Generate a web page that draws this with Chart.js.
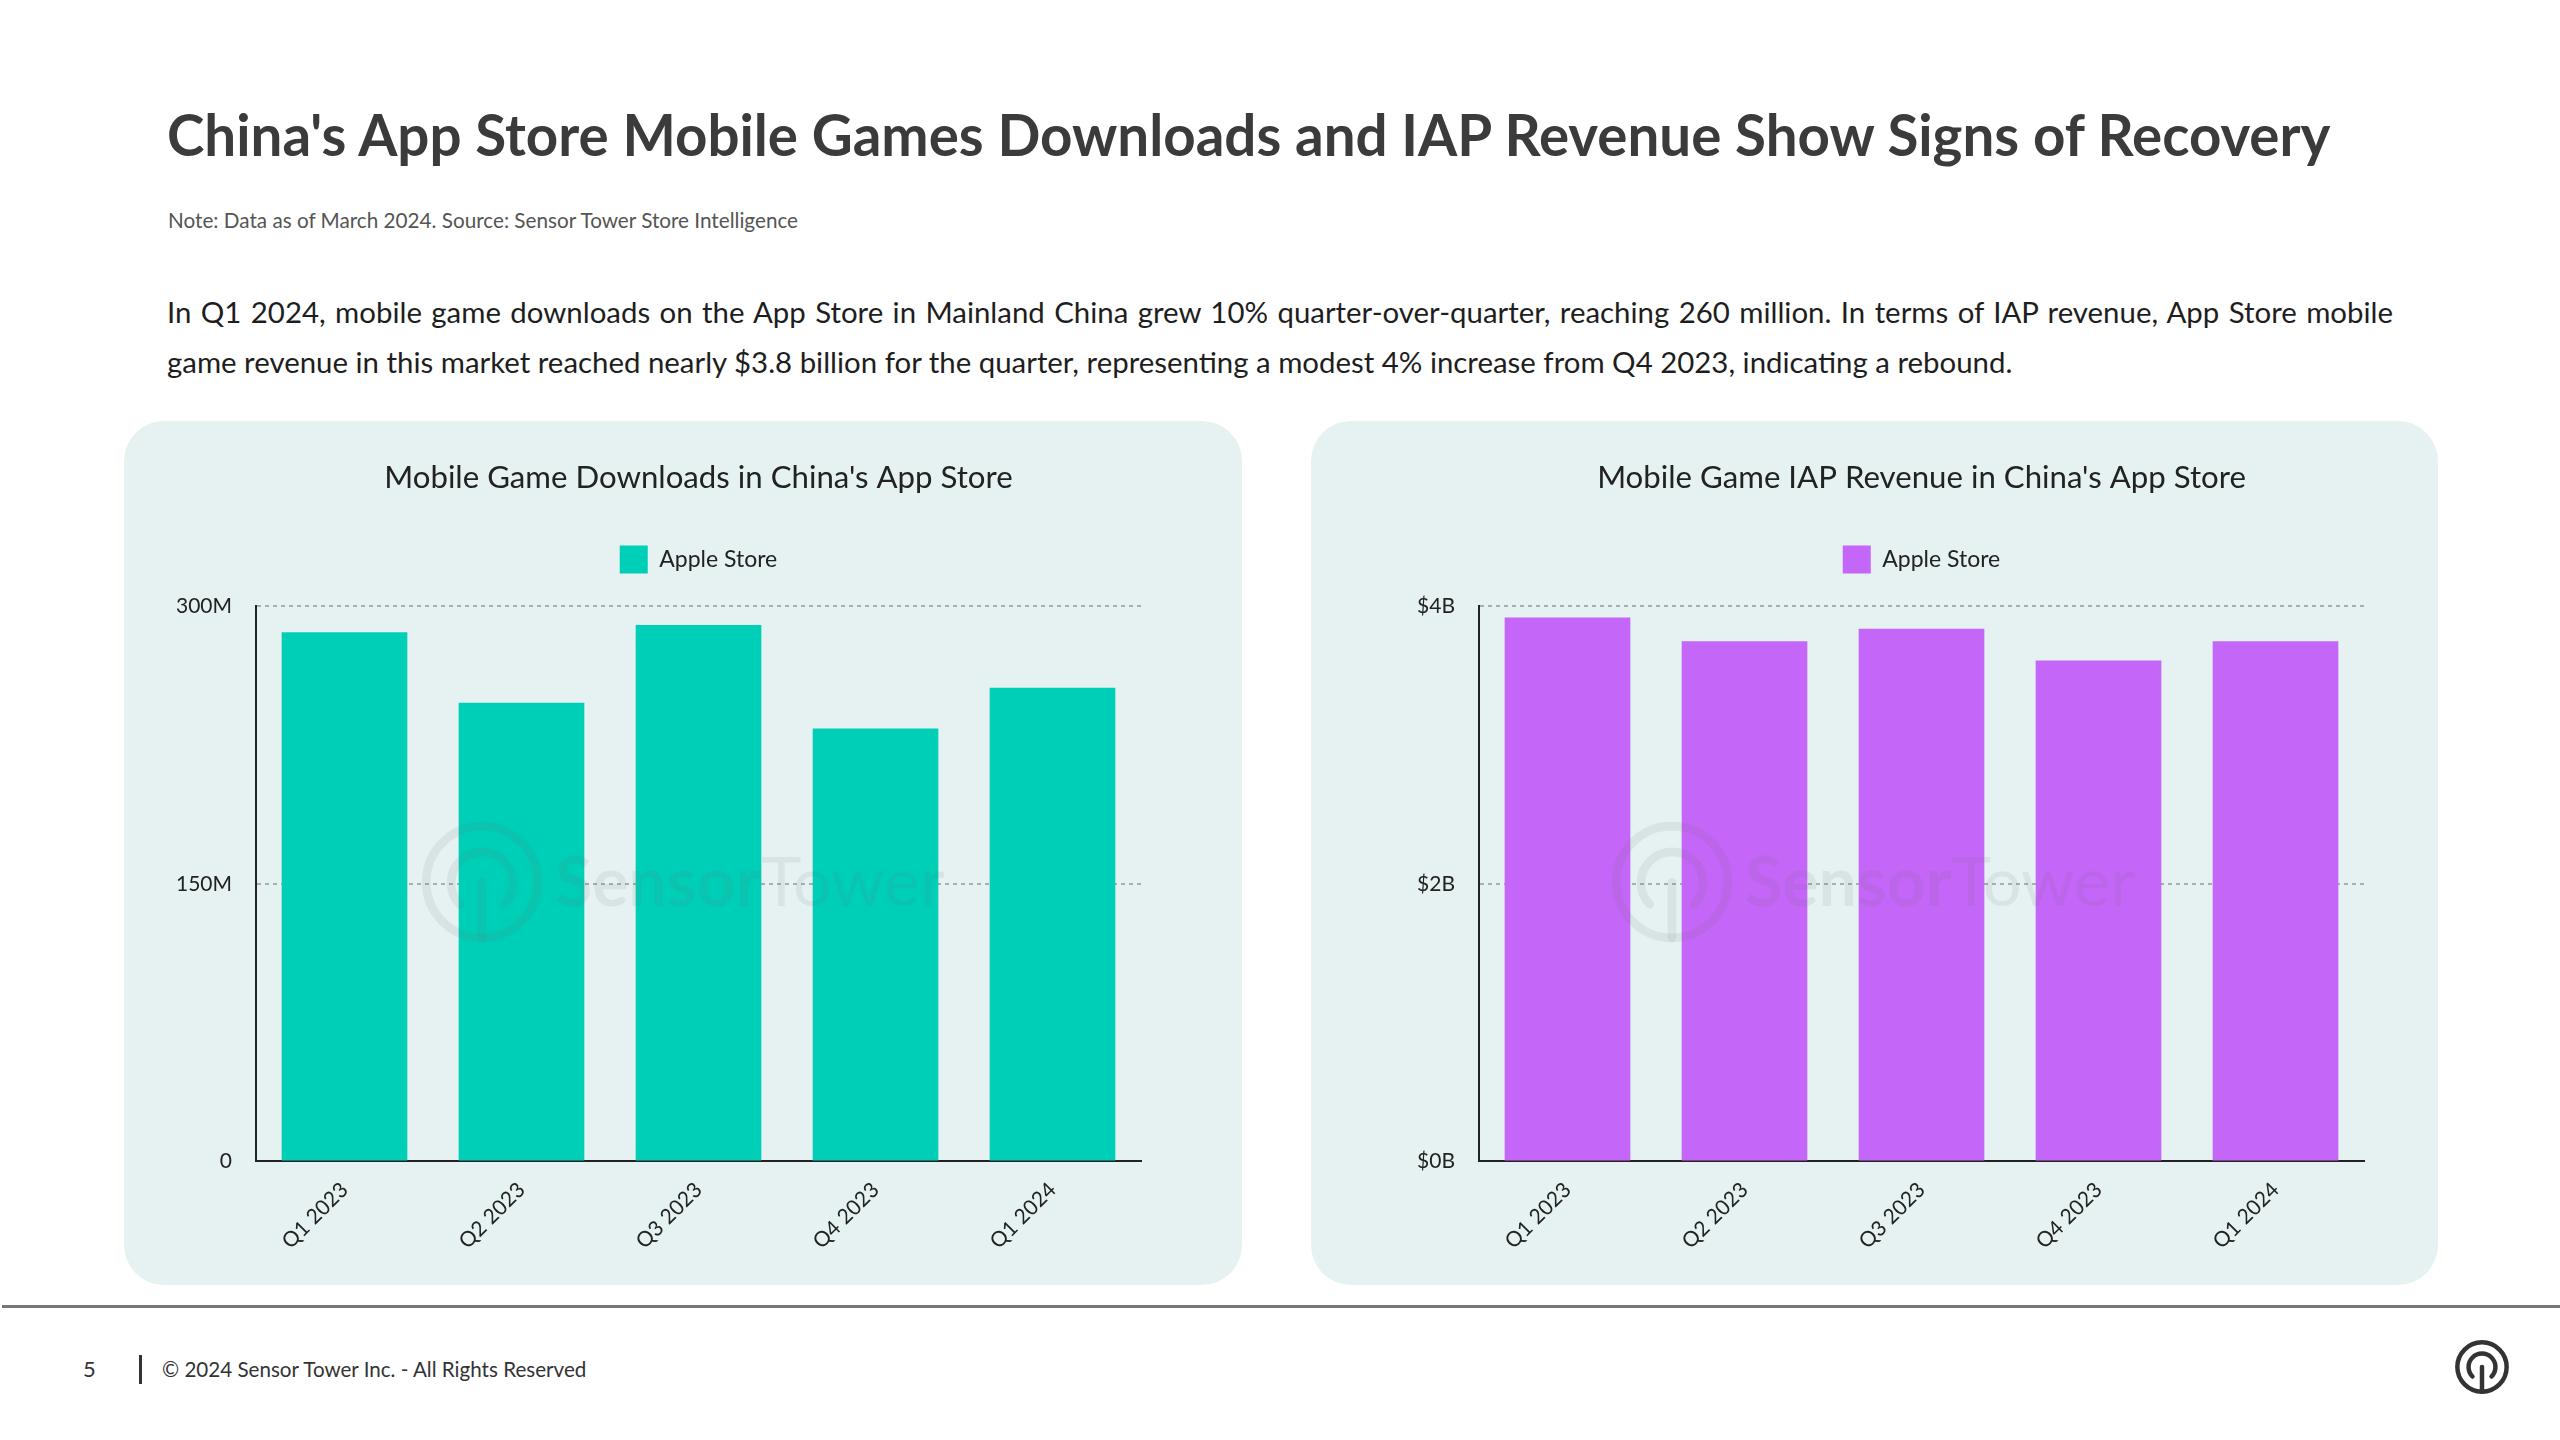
<!DOCTYPE html>
<html>
<head>
<meta charset="utf-8">
<title>China App Store Mobile Games</title>
<script src="https://cdn.jsdelivr.net/npm/chart.js@4.4.1/dist/chart.umd.min.js"></script>
<style>
  html, body { margin: 0; padding: 0; background: #fff; }
  body { width: 2560px; height: 1440px; position: relative; overflow: hidden; font-family: Lato, "Noto Sans", sans-serif; }
  .abs { position: absolute; white-space: nowrap; }
  #title { left: 167px; top: 103px; font-size: 56.5px; line-height: 62px; font-weight: 700; color: #3b3b3b; }
  #note { left: 168px; top: 207px; font-size: 20.7px; line-height: 26px; color: #555; }
  #para { left: 167px; top: 287px; width: 2226px; font-size: 29.4px; line-height: 50px; color: #1e1e1e; }
  #para .l1 { text-align-last: justify; text-align: justify; }
  .panel { position: absolute; top: 421px; height: 864px; background: #e5f2f1; border-radius: 40px; }
  .panel canvas { position: absolute; left: 0; top: 0; }
  .wm { position: absolute; top: 820px; height: 124px; pointer-events: none; color: rgba(110,110,110,0.1); }
  .wm svg { position: absolute; left: 0; top: 0; }
  .wm span { position: absolute; left: 135px; top: 20px; font-size: 68px; line-height: 80px; white-space: nowrap; }
  #footline { left: 2px; right: 0; top: 1305px; height: 3px; background: #777; }
  #page { left: 83px; top: 1354px; font-size: 22px; line-height: 30px; color: #333; }
  #bar { left: 139px; top: 1355px; width: 3px; height: 29px; background: #333; }
  #copy { left: 162px; top: 1355px; font-size: 20.6px; line-height: 28px; color: #333; }
</style>
</head>
<body>
  <div id="title" class="abs">China's App Store Mobile Games Downloads and IAP Revenue Show Signs of Recovery</div>
  <div id="note" class="abs">Note: Data as of March 2024. Source: Sensor Tower Store Intelligence</div>
  <div id="para" class="abs">
    <div class="l1">In Q1 2024, mobile game downloads on the App Store in Mainland China grew 10% quarter-over-quarter, reaching 260 million. In terms of IAP revenue, App Store mobile</div>
    <div>game revenue in this market reached nearly $3.8 billion for the quarter, representing a modest 4% increase from Q4 2023, indicating a rebound.</div>
  </div>

  <div class="panel" style="left:124px; width:1118px;"><canvas id="downloads" width="1118" height="864"></canvas></div>
  <div class="panel" style="left:1311px; width:1127px;"><canvas id="revenue" width="1127" height="864"></canvas></div>

  <div class="wm" style="left:420px; width:560px;">
    <svg width="124" height="124" viewBox="-50 -50 100 100"><g fill="none" stroke="currentColor" stroke-width="7" stroke-linecap="round"><circle r="45"/><path d="M -18 18 A 25 25 0 1 1 18 18"/><path d="M 0 0 L 0 45"/></g></svg>
    <span><b>Sensor</b>Tower</span>
  </div>
  <div class="wm" style="left:1610px; width:560px;">
    <svg width="124" height="124" viewBox="-50 -50 100 100"><g fill="none" stroke="currentColor" stroke-width="7" stroke-linecap="round"><circle r="45"/><path d="M -18 18 A 25 25 0 1 1 18 18"/><path d="M 0 0 L 0 45"/></g></svg>
    <span><b>Sensor</b>Tower</span>
  </div>

  <div id="footline" class="abs"></div>
  <div id="page" class="abs">5</div>
  <div id="bar" class="abs"></div>
  <div id="copy" class="abs">© 2024 Sensor Tower Inc. - All Rights Reserved</div>
  <svg class="abs" style="left:2454px; top:1339px;" width="56" height="56" viewBox="-50 -50 100 100"><g fill="none" stroke="#333" stroke-width="8" stroke-linecap="round"><circle r="44"/><path d="M -17 17 A 24 24 0 1 1 17 17"/><path d="M 0 0 L 0 44"/></g></svg>

<script>
// data
const quarters = ['Q1 2023', 'Q2 2023', 'Q3 2023', 'Q4 2023', 'Q1 2024'];
const downloadsM = [286, 248, 290, 234, 256];      // millions
const revenueB = [3.92, 3.75, 3.84, 3.61, 3.75];   // billions USD
const downloadTicks = ['0', '150M', '300M'];
const revenueTicks = ['$0B', '$2B', '$4B'];

const FONT = 'Lato, "Noto Sans", sans-serif';
const INK = '#222';

// extra room between legend and plot, and title/legend centred over the plot area
const panelLayout = {
    id: 'panelLayout',
    beforeInit(chart) {
        const fit = chart.legend.fit;
        chart.legend.fit = function () {
            fit.bind(chart.legend)();
            this.height += 23;
        };
    },
    afterLayout(chart) {
        const a = chart.chartArea;
        [chart.titleBlock, chart.legend].forEach(b => {
            b.left = a.left;
            b.right = a.right;
            b.width = a.right - a.left;
        });
    }
};

function makeChart(id, title, values, color, tickLabels, maxV, axisW, padRight) {
    const step = maxV / 2;
    return new Chart(document.getElementById(id), {
        type: 'bar',
        data: {
            labels: quarters,
            datasets: [{
                label: 'Apple Store',
                data: values,
                backgroundColor: color,
                barPercentage: 0.71,
                categoryPercentage: 1
            }]
        },
        options: {
            responsive: false,
            animation: false,
            devicePixelRatio: 1,
            layout: { padding: { top: 20, left: 0, right: padRight, bottom: 23 } },
            plugins: {
                title: {
                    display: true, text: title, color: INK,
                    font: { family: FONT, size: 31.2, weight: 'normal' },
                    padding: { top: 18, bottom: 29 }
                },
                legend: {
                    labels: {
                        boxWidth: 28, boxHeight: 28, padding: 20, color: INK,
                        font: { family: FONT, size: 23 }
                    }
                },
                tooltip: { enabled: false }
            },
            scales: {
                x: {
                    grid: { display: false },
                    border: { color: INK, width: 2 },
                    ticks: { minRotation: 45, maxRotation: 45, color: INK, padding: 8, font: { family: FONT, size: 21 } }
                },
                y: {
                    min: 0, max: maxV,
                    afterFit: s => { s.width = axisW; },
                    grid: { color: '#a9adad', lineWidth: 2, drawTicks: false },
                    border: { color: INK, width: 2, dash: [4, 4] },
                    ticks: {
                        stepSize: step, padding: 24, color: INK,
                        font: { family: FONT, size: 21 },
                        callback: v => tickLabels[Math.round(v / step)]
                    }
                }
            }
        },
        plugins: [panelLayout]
    });
}

makeChart('downloads', "Mobile Game Downloads in China's App Store", downloadsM, '#00CFB8', downloadTicks, 300, 132, 101);
makeChart('revenue', "Mobile Game IAP Revenue in China's App Store", revenueB, '#C466F8', revenueTicks, 4, 168, 74);
</script>
</body>
</html>
